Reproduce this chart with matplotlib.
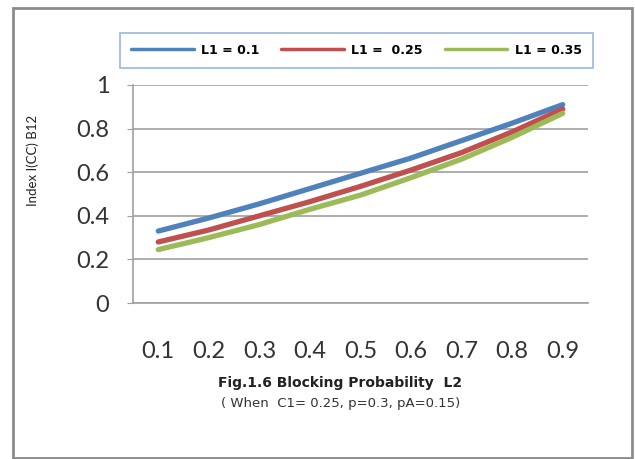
import matplotlib
matplotlib.use("Agg")
import matplotlib.pyplot as plt
from matplotlib.patches import Rectangle

plt.rcParams['font.family'] = ['Lato', 'DejaVu Sans']

# data
l2 = ['0.1', '0.2', '0.3', '0.4', '0.5', '0.6', '0.7', '0.8', '0.9']
l1_01 = [0.33, 0.39, 0.455, 0.525, 0.595, 0.665, 0.745, 0.825, 0.91]
l1_025 = [0.28, 0.335, 0.40, 0.465, 0.535, 0.61, 0.69, 0.785, 0.89]
l1_035 = [0.245, 0.30, 0.36, 0.43, 0.495, 0.575, 0.66, 0.76, 0.87]
labels = ['L1 = 0.1', 'L1 =  0.25', 'L1 = 0.35']
colors = ['#4F81BD', '#C0504D', '#9BBB59']
yticks = [0, 0.2, 0.4, 0.6, 0.8, 1]

fig = plt.figure(figsize=(6.35, 4.59), dpi=100)
W, H = 635, 459

# outer frame
fig.patches.append(Rectangle((12.5 / W, 1 / H), 619 / W, 450 / H,
                             transform=fig.transFigure, fill=False,
                             edgecolor='#8C8C8C', lw=2))

ax = fig.add_axes([133 / W, 1 - 303 / H, 455 / W, 218 / H])
x = range(len(l2))
for ys, lab, c in zip([l1_01, l1_025, l1_035], labels, colors):
    ax.plot(x, ys, color=c, lw=3.8, label=lab, solid_capstyle='round')

ax.set_xlim(-0.5, len(l2) - 0.5)
ax.set_ylim(0, 1)
ax.set_yticks(yticks)
ax.set_yticklabels(['0', '0.2', '0.4', '0.6', '0.8', '1'])
ax.set_xticks(list(x))
ax.set_xticklabels(l2)
ax.grid(axis='y', color='#A0A0A0', lw=1.2)
ax.set_axisbelow(True)
for s in ['top', 'right']:
    ax.spines[s].set_visible(False)
for s in ['left', 'bottom']:
    ax.spines[s].set_color('#A0A0A0')
    ax.spines[s].set_linewidth(1.2)
ax.tick_params(axis='y', length=4, color='#A0A0A0', labelsize=17, pad=13, labelcolor='#333333')
ax.tick_params(axis='x', length=0, labelsize=17, pad=27, labelcolor='#333333')

fig.text(33 / W, 1 - 160 / H, 'Index I(CC) B12', rotation=90, fontsize=9.5,
         ha='center', va='center', color='#222222')
fig.text(340 / W, 1 - 383 / H, 'Fig.1.6 Blocking Probability  L2', fontsize=10,
         family='DejaVu Sans', fontweight='bold', ha='center', va='center', color='#222222')
fig.text(341 / W, 1 - 404 / H, '( When  C1= 0.25, p=0.3, pA=0.15)', fontsize=9.5,
         family='DejaVu Sans', ha='center', va='center', color='#333333')

leg = fig.legend(loc='lower left', bbox_to_anchor=(120 / W, 1 - 68 / H, 473 / W, 40 / H),
                 mode='expand', ncol=3, frameon=True, fancybox=False,
                 handlelength=5, handletextpad=0.6,
                 prop={'family': 'DejaVu Sans', 'weight': 'bold', 'size': 9},
                 borderaxespad=0, borderpad=0.9)
leg.get_frame().set_edgecolor('#7FA6D6')
leg.get_frame().set_linewidth(1.2)
for h in leg.get_lines():
    h.set_linewidth(2.5)

fig.savefig('out.png', dpi=100)
